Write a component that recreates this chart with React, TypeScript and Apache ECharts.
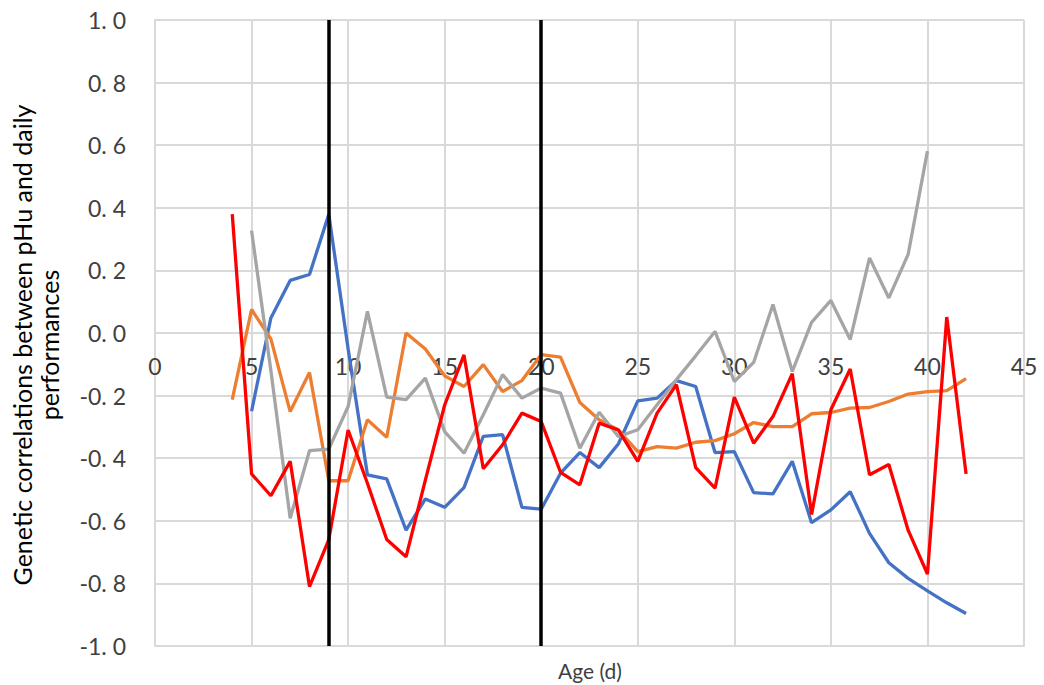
import React, { useEffect, useRef } from "react";
import * as echarts from "echarts";

const ages = [4,5,6,7,8,9,10,11,12,13,14,15,16,17,18,19,20,21,22,23,24,25,26,27,28,29,30,31,32,33,34,35,36,37,38,39,40,41,42];

const blueValues = [null, -0.25, 0.048, 0.168, 0.187, 0.379, -0.05, -0.453, -0.466, -0.63, -0.53,
  -0.557, -0.494, -0.33, -0.325, -0.557, -0.563, -0.448, -0.382, -0.43, -0.354,
  -0.217, -0.208, -0.152, -0.171, -0.382, -0.379, -0.51, -0.514, -0.41, -0.606,
  -0.565, -0.507, -0.64, -0.734, -0.784, -0.824, -0.862, -0.896];

const orangeValues = [-0.213, 0.075, -0.019, -0.251, -0.126, -0.472, -0.472, -0.277, -0.333, 0.0,
  -0.051, -0.137, -0.171, -0.101, -0.187, -0.152, -0.069, -0.077, -0.222, -0.277,
  -0.31, -0.379, -0.363, -0.368, -0.349, -0.344, -0.322, -0.286, -0.299, -0.299,
  -0.258, -0.254, -0.24, -0.238, -0.219, -0.195, -0.187, -0.184, -0.146];

const grayValues = [null, 0.327, -0.12, -0.592, -0.376, -0.371, -0.235, 0.069, -0.205, -0.213, -0.144,
  -0.315, -0.384, -0.261, -0.133, -0.208, -0.176, -0.192, -0.368, -0.253, -0.331,
  -0.309, -0.229, -0.149, -0.073, 0.005, -0.155, -0.094, 0.091, -0.123, 0.034,
  0.104, -0.021, 0.24, 0.112, 0.251, 0.581, null, null];

const redValues = [0.38, -0.45, -0.52, -0.41, -0.81, -0.66, -0.31, -0.48, -0.66, -0.715,
  -0.47, -0.23, -0.07, -0.434, -0.357, -0.256, -0.283, -0.445, -0.485, -0.288,
  -0.31, -0.41, -0.256, -0.165, -0.43, -0.496, -0.205, -0.352, -0.267, -0.13,
  -0.58, -0.245, -0.115, -0.453, -0.42, -0.63, -0.77, 0.051, -0.45];

const markerAges = [9, 20];

const yTitleLines = ["Genetic correlations between pHu and daily", "performances"];
const xTitle = "Age (d)";

const FONT = "Lato";

function pairs(vals: (number | null)[]) {
  const out: [number, number][] = [];
  vals.forEach((v, i) => {
    if (v !== null) out.push([ages[i], v]);
  });
  return out;
}

export default function App() {
  const ref = useRef<HTMLDivElement>(null);
  useEffect(() => {
    if (!ref.current) return;
    const chart = echarts.init(ref.current, undefined, { renderer: "svg" });
    const lineSeries = (name: string, color: string, vals: (number | null)[]) => ({
      name,
      type: "line",
      data: pairs(vals),
      showSymbol: false,
      symbol: "none",
      lineStyle: { color, width: 3.3 },
      itemStyle: { color },
      z: 3,
    });
    const titleText = (text: string, x: number) => ({
      type: "text",
      x,
      y: 345,
      rotation: Math.PI / 2,
      style: {
        text,
        font: `25px ${FONT}`,
        fill: "#000000",
        textAlign: "center",
        textVerticalAlign: "middle",
      },
    });
    chart.setOption({
      animation: false,
      backgroundColor: "#ffffff",
      grid: { left: 155, right: 20, top: 20, bottom: 39, containLabel: false, outerBoundsMode: "none" },
      graphic: [
        titleText(yTitleLines[0], 22),
        titleText(yTitleLines[1], 49),
        {
          type: "text",
          x: 590,
          y: 670,
          style: {
            text: xTitle,
            font: `21px ${FONT}`,
            fill: "#404040",
            textAlign: "center",
            textVerticalAlign: "middle",
          },
        },
      ],
      xAxis: {
        type: "value",
        min: 0,
        max: 45,
        interval: 5,
        axisLine: { onZero: false, show: true, lineStyle: { color: "#d9d9d9", width: 2 } },
        axisTick: { show: false },
        axisLabel: { fontFamily: FONT, fontSize: 23, color: "#404040", margin: -292 },
        splitLine: { show: true, lineStyle: { color: "#d9d9d9", width: 2 } },
      },
      yAxis: {
        type: "value",
        min: -1,
        max: 1,
        interval: 0.2,
        axisLine: { onZero: false, show: true, lineStyle: { color: "#d9d9d9", width: 2 } },
        axisTick: { show: false },
        axisLabel: {
          fontFamily: FONT,
          fontSize: 23,
          color: "#404040",
          margin: 29,
          formatter: (v: number) => v.toFixed(1).replace(".", ". "),
        },
        splitLine: { show: true, lineStyle: { color: "#d9d9d9", width: 2 } },
      },
      series: [
        lineSeries("Blue", "#4472C4", blueValues),
        lineSeries("Orange", "#ED7D31", orangeValues),
        lineSeries("Gray", "#A5A5A5", grayValues),
        lineSeries("Red", "#FF0000", redValues),
        {
          name: "Markers",
          type: "line",
          data: [],
          z: 5,
          markLine: {
            silent: true,
            symbol: ["none", "none"],
            label: { show: false },
            lineStyle: { color: "#000000", width: 3.5, type: "solid" },
            data: markerAges.map((a) => ({ xAxis: a })),
          },
        },
      ],
    });
    return () => chart.dispose();
  }, []);
  return (
    <div
      ref={ref}
      style={{ position: "absolute", left: 0, top: 0, width: 1044, height: 685 }}
    />
  );
}
